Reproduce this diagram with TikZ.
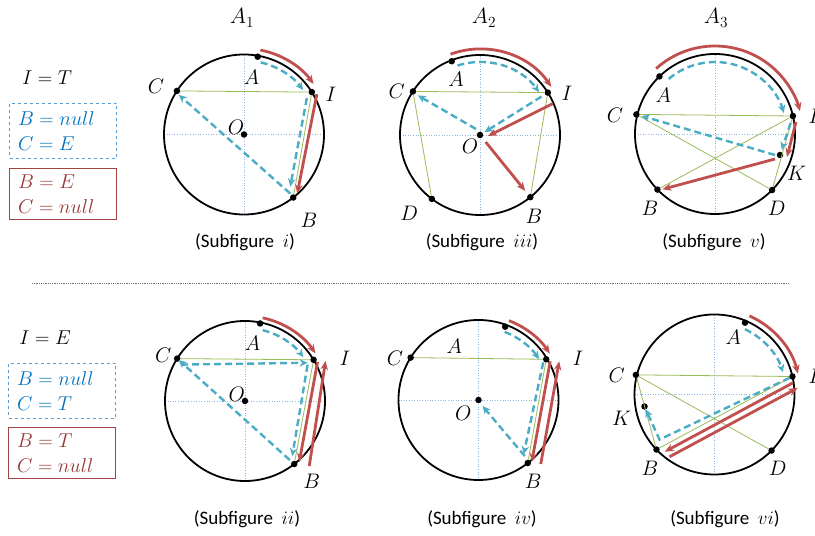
\RequirePackage{fix-cm}
\documentclass[tikz,border=0pt]{standalone}
\usepackage{fontspec}
\setsansfont{Carlito}
\usetikzlibrary{arrows.meta,calc}
\definecolor{arrred}{RGB}{192,80,77}
\definecolor{pathblue}{RGB}{75,172,198}
\definecolor{chordgreen}{RGB}{155,187,89}
\definecolor{textblue}{RGB}{0,112,192}
\definecolor{textred}{RGB}{149,55,53}
\definecolor{axisblue}{RGB}{141,180,226}
\definecolor{boxblue}{RGB}{91,155,213}

\begin{document}
\begin{tikzpicture}[
  x=1pt, y=1pt,
  rim/.style={draw=black, line width=1.8pt},
  axisline/.style={draw=axisblue, dotted, line width=0.6pt},
  chord/.style={draw=chordgreen, line width=0.8pt},
  vtx/.style={circle, fill=black, inner sep=0pt, minimum size=6.5pt},
  lab/.style={font=\fontsize{21}{24}\selectfont, inner sep=0pt},
  head/.style={font=\fontsize{22}{26}\selectfont, inner sep=0pt},
  rowhead/.style={font=\fontsize{20}{24}\selectfont, inner sep=0pt},
  subcap/.style={font=\fontsize{19}{22}\selectfont\sffamily, inner sep=0pt},
  redpath/.style={draw=arrred, line width=2.8pt, -{Stealth[length=9pt,width=7.5pt]}},
  bluepath/.style={draw=pathblue, line width=2.4pt, dash pattern=on 7pt off 4pt, -{Stealth[length=8pt,width=7.5pt]}},
  keybox/.style={font=\fontsize{20}{25}\selectfont, align=left, text width=90pt, minimum width=107pt, inner sep=0pt, line width=0.8pt},
  bluekey/.style={keybox, draw=boxblue, dashed, text=textblue, minimum height=55pt},
  redkey/.style={keybox, draw=arrred!85!black, text=textred, minimum height=51pt},
  sepline/.style={draw=black!55, densely dotted, line width=0.8pt}
]
\useasboundingbox (0,0) rectangle (815,536);

% circle centres
\coordinate (ci) at (244,401.5);
\coordinate (ciii) at (480,401);
\coordinate (cv) at (715,402);
\coordinate (cii) at (245,135);
\coordinate (civ) at (478.5,136);
\coordinate (cvi) at (714.5,141.5);

\foreach \c in {i,ii,iii,iv,v,vi}{
  \draw[axisline] ([xshift=-80pt]c\c) -- ([xshift=80pt]c\c);
  \draw[axisline] ([yshift=-80pt]c\c) -- ([yshift=80pt]c\c);
  \draw[rim] (c\c) circle[radius=80];
}

% column heads
\node[head] (hA1) at (242,518) {$A_1$};
\node[head] (hA2) at (484,518) {$A_2$};
\node[head] (hA3) at (716,518) {$A_3$};

% left keys
\node[rowhead] (rowT) at (47,458) {$I=T$};
\node[bluekey] (blueT) at (63,405) {$B=null$\\$C=E$};
\node[redkey] (redT) at (63,342) {$B=E$\\$C=null$};

\node[rowhead] (rowE) at (45,198) {$I=E$};
\node[bluekey] (blueE) at (62,145) {$B=null$\\$C=T$};
\node[redkey] (redE) at (62,83) {$B=T$\\$C=null$};

\draw[sepline] (32,253) -- (789,253);

% Subfigure i
\node[vtx] (Oi) at (ci) {};
\node[vtx] (Ai) at ([shift={(80:79)}]ci) {};
\node[vtx] (Ci) at ([shift={(147:80)}]ci) {};
\node[vtx] (Ii) at ([shift={(32:80)}]ci) {};
\node[vtx] (Bi) at ([shift={(-52:80)}]ci) {};
\node[lab] (lAi) at (251.7,458.7) {$A$};
\node[lab] (lCi) at (156,449.3) {$C$};
\node[lab] (lIi) at (331,442) {$I$};
\node[lab] (lOi) at (236,409) {$O$};
\node[lab] (lBi) at (309,316) {$B$};
\draw[chord] (Ci) -- (Ii) -- (Bi);
\draw[redpath] ([shift={(79:86)}]ci) arc[start angle=79, end angle=36, radius=86];
\draw[redpath] ([shift={(5,-2)}]Ii.center) -- ([shift={(4,4)}]Bi.center);
\draw[bluepath] ([shift={(77:74)}]ci) arc[start angle=77, end angle=37, radius=74];
\draw[bluepath] ([shift={(-5,-6)}]Ii.center) -- ([shift={(-3,11)}]Bi.center);
\draw[bluepath] ([shift={(-3,4)}]Bi.center) -- ([shift={(2,-4)}]Ci.center);
\node[subcap] (si) at (245,294) {(Subfigure\ \ $i$)};

% Subfigure iii
\node[vtx] (Oiii) at (ciii) {};
\node[vtx] (Aiii) at ([shift={(111:79)}]ciii) {};
\node[vtx] (Ciii) at ([shift={(147:80)}]ciii) {};
\node[vtx] (Iiii) at ([shift={(32:80)}]ciii) {};
\node[vtx] (Diii) at ([shift={(-127:80)}]ciii) {};
\node[vtx] (Biii) at ([shift={(-51:80)}]ciii) {};
\node[lab] (lAiii) at (456,456.7) {$A$};
\node[lab] (lCiii) at (396.7,444.3) {$C$};
\node[lab] (lIiii) at (567,442.7) {$I$};
\node[lab] (lDiii) at (409.3,322.7) {$D$};
\node[lab] (lBiii) at (534,319.3) {$B$};
\node[lab] (lOiii) at (470,389.3) {$O$};
\draw[chord] (Diii) -- (Ciii) -- (Iiii) -- (Biii);
\draw[redpath] ([shift={(110:86)}]ciii) arc[start angle=110, end angle=34, radius=86];
\draw[redpath] ([shift={(5,-11)}]Iiii.center) -- ([shift={(8,-1)}]Oiii.center);
\draw[redpath, shorten <=9pt, shorten >=8pt] (Oiii.center) -- (Biii.center);
\draw[bluepath] ([shift={(108:73)}]ciii) arc[start angle=108, end angle=36, radius=73];
\draw[bluepath, shorten <=4pt, shorten >=2pt] (Iiii) -- (Oiii);
\draw[bluepath] ([shift={(-4,6)}]Oiii.center) -- ([shift={(5,-4)}]Ciii.center);
\node[subcap] (siii) at (482,294) {(Subfigure\ \ $iii$)};

% Subfigure v
\node[vtx] (Av) at ([shift={(134:80)}]cv) {};
\node[vtx] (Cv) at ([shift={(166:81)}]cv) {};
\node[vtx] (Iv) at ([shift={(13:80)}]cv) {};
\node[vtx] (Bv) at ([shift={(-136:80)}]cv) {};
\node[vtx] (Dv) at ([shift={(-44.5:80)}]cv) {};
\node[vtx] (Kv) at ([shift={(65,-21)}]cv) {};
\node[lab] (lAv) at (663.3,441) {$A$};
\node[lab] (lCv) at (615,421) {$C$};
\node[lab] (lIv) at (814,420) {$I$};
\node[lab] (lKv) at (796.7,362.7) {$K$};
\node[lab] (lBv) at (650,327.7) {$B$};
\node[lab] (lDv) at (776.7,327.7) {$D$};
\draw[chord] (Cv) -- (Iv) -- (Bv);
\draw[chord] (Cv) -- (Dv) -- (Iv);
\draw[redpath] ([shift={(132:88)}]cv) arc[start angle=132, end angle=15, radius=88];
\draw[redpath] ([shift={(3,-6)}]Iv.center) -- ([shift={(7,-2)}]Kv.center);
\draw[redpath, shorten >=1pt] ([shift={(-5,-4)}]Kv.center) -- ([shift={(4,0)}]Bv.center);
\draw[bluepath] ([shift={(130:72)}]cv) arc[start angle=130, end angle=17, radius=72];
\draw[bluepath, shorten <=4pt, shorten >=2pt] (Iv) -- (Kv);
\draw[bluepath, shorten >=2pt] ([xshift=-5pt]Kv.center) -- (Cv);
\node[subcap] (sv) at (714,294) {(Subfigure\ \ $v$)};

% Subfigure ii
\node[vtx] (Oii) at (cii) {};
\node[vtx] (Aii) at ([shift={(79:79)}]cii) {};
\node[vtx] (Cii) at ([shift={(148:80)}]cii) {};
\node[vtx] (Iii) at ([shift={(31:80)}]cii) {};
\node[vtx] (Bii) at ([shift={(-52:80)}]cii) {};
\node[lab] (lAii) at (252.7,192.7) {$A$};
\node[lab] (lCii) at (163.3,181) {$C$};
\node[lab] (lIii) at (345,178) {$I$};
\node[lab] (lOii) at (236.7,141.7) {$O$};
\node[lab] (lBii) at (311.7,54.3) {$B$};
\draw[chord] (Cii) -- (Iii) -- (Bii);
\draw[redpath] ([shift={(78:85)}]cii) arc[start angle=78, end angle=34, radius=85];
\draw[redpath] ([shift={(4,-2)}]Iii.center) -- ([shift={(5,2)}]Bii.center);
\draw[redpath] ([shift={(15,-2)}]Bii.center) -- ([shift={(12,-1)}]Iii.center);
\draw[bluepath] ([shift={(76:73)}]cii) arc[start angle=76, end angle=37, radius=73];
\draw[bluepath] ([shift={(4,-6)}]Cii.center) -- ([shift={(-6,-3)}]Iii.center);
\draw[bluepath] ([shift={(-6,-5)}]Iii.center) -- ([shift={(-2,8)}]Bii.center);
\draw[bluepath, shorten <=6pt, shorten >=2pt] (Bii.center) -- (Cii.center);
\node[subcap] (sii) at (247,17) {(Subfigure\ \ $ii$)};

% Subfigure iv
\node[vtx] (Oiv) at (civ) {};
\node[vtx] (Aiv) at ([shift={(70:78)}]civ) {};
\node[vtx] (Civ) at ([shift={(148:80)}]civ) {};
\node[vtx] (Iiv) at ([shift={(31:79)}]civ) {};
\node[vtx] (Biv) at ([shift={(-52:80)}]civ) {};
\node[lab] (lAiv) at (454.3,189.3) {$A$};
\node[lab] (lCiv) at (395,177.7) {$C$};
\node[lab] (lIiv) at (578,178) {$I$};
\node[lab] (lOiv) at (463.3,122.7) {$O$};
\node[lab] (lBiv) at (533.3,54.3) {$B$};
\draw[chord] (Civ) -- (Iiv) -- (Biv);
\draw[redpath] ([shift={(69:85)}]civ) arc[start angle=69, end angle=33, radius=85];
\draw[redpath] ([shift={(4,-2)}]Iiv.center) -- ([shift={(4,1)}]Biv.center);
\draw[redpath] ([shift={(13,-1)}]Biv.center) -- ([shift={(13,-2)}]Iiv.center);
\draw[bluepath] ([shift={(69:73)}]civ) arc[start angle=69, end angle=34, radius=73];
\draw[bluepath] ([shift={(-3,-3)}]Iiv.center) -- ([shift={(-4,9)}]Biv.center);
\draw[bluepath] ([shift={(-3,7)}]Biv.center) -- ([shift={(4,-6)}]Oiv.center);
\node[subcap] (siv) at (482,17) {(Subfigure\ \ $iv$)};

% Subfigure vi
\node[vtx] (Avi) at ([shift={(67:78)}]cvi) {};
\node[vtx] (Cvi) at ([shift={(166:81)}]cvi) {};
\node[vtx] (Ivi) at ([shift={(13:80)}]cvi) {};
\node[vtx] (Bvi) at ([shift={(-136.5:80)}]cvi) {};
\node[vtx] (Dvi) at ([shift={(-44.5:80)}]cvi) {};
\node[vtx] (Kvi) at ([shift={(-70,-12)}]cvi) {};
\node[lab] (lAvi) at (733.3,198.7) {$A$};
\node[lab] (lCvi) at (616.7,161) {$C$};
\node[lab] (lIvi) at (814,160) {$I$};
\node[lab] (lKvi) at (621.7,117.7) {$K$};
\node[lab] (lBvi) at (650,67.7) {$B$};
\node[lab] (lDvi) at (777.7,67.7) {$D$};
\draw[chord] (Bvi) -- (Cvi) -- (Ivi) -- (Bvi);
\draw[chord] (Cvi) -- (Dvi);
\draw[redpath] ([shift={(66:86)}]cvi) arc[start angle=66, end angle=14, radius=86];
\draw[redpath, shorten <=3pt, shorten >=6pt] ([shift={(3,-5)}]Ivi.center) -- ([shift={(3,-5)}]Bvi.center);
\draw[redpath, shorten <=8pt, shorten >=1pt] ([shift={(6,-11)}]Bvi.center) -- ([shift={(6,-11)}]Ivi.center);
\draw[bluepath] ([shift={(65:72)}]cvi) arc[start angle=65, end angle=18, radius=72];
\draw[bluepath, shorten <=3pt, shorten >=3pt] (Ivi.center) -- ([shift={(3,10)}]Bvi.center) -- (Kvi.center);
\node[subcap] (svi) at (725,17) {(Subfigure\ \ $vi$)};

\end{tikzpicture}
\end{document}
